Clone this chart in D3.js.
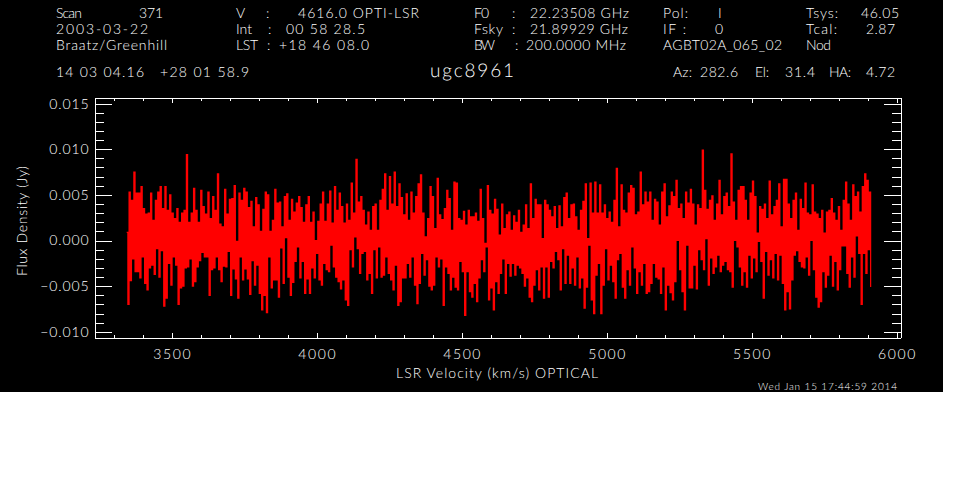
<!DOCTYPE html>
<html>
<head>
<meta charset="utf-8">
<script src="https://cdn.jsdelivr.net/npm/d3@7"></script>
<style>
  html, body { margin:0; padding:0; background:#fff; }
  svg { display:block; }
  text { fill:#fff; font-family:"Lato","Liberation Sans",sans-serif; font-weight:300; text-rendering:geometricPrecision; }
</style>
</head>
<body>
<script>
// velocity of the first and last channel, km/s
const velocityRange = [3343, 5909];

// top of each channel's excursion, mJy left to right
const fluxHigh = [
  0.9,5.3,4.4,7.5,5.2,5.2,5.9,3.5,2.9,3.0,5.2,2.2,
  4.4,5.3,5.9,3.5,5.9,3.3,5.0,3.0,2.4,3.5,2.0,3.0,
  3.3,9.4,2.0,3.0,5.7,3.3,2.0,5.5,3.7,2.9,5.3,2.4,

  4.8,3.3,7.3,1.8,1.5,5.6,2.9,4.5,4.6,6.0,
  -0.1,5.2,4.4,5.7,5.3,3.6,4.3,1.5,4.7,3.9,
  1.0,3.4,5.3,5.0,1.0,2.2,5.6,4.1,4.2,1.5,
  4.8,5.1,2.2,4.5,3.1,4.1,4.8,3.6,2.0,3.9,

  4.8,2.0,3.1,0.0,2.1,4.0,5.3,2.1,4.0,5.4,
  1.9,5.9,3.3,5.2,3.7,1.9,4.0,2.2,6.3,3.0,
  8.9,4.2,4.8,3.3,1.7,3.1,1.1,3.7,4.0,1.1,
  4.4,5.6,7.3,3.3,7.0,4.0,7.5,3.7,6.2,4.7,

  2.8,5.1,2.2,5.3,3.0,4.8,6.2,7.2,3.0,0.4,
  2.4,5.9,4.8,1.3,6.8,2.8,2.3,3.5,5.5,4.6,
  1.1,6.4,6.3,2.4,2.2,3.2,1.7,3.3,2.6,2.6,
  3.0,2.1,5.6,2.4,-0.3,6.0,3.3,2.9,4.5,3.4,

  0.6,4.0,1.3,2.8,3.1,1.1,2.7,2.0,3.3,0.9,
  1.7,3.9,1.3,6.2,2.4,4.5,3.9,3.9,0.2,4.4,
  3.9,3.3,2.6,3.7,1.3,3.8,1.5,4.7,5.2,2.4,
  3.9,4.0,2.6,1.1,3.3,4.3,6.2,0.2,6.3,3.0,

  6.4,3.0,6.1,3.0,3.9,2.4,3.1,2.0,4.4,7.9,
  1.5,6.1,3.3,3.0,5.2,6.0,5.7,2.8,3.1,7.5,
  3.9,5.3,4.2,5.3,2.2,4.5,4.2,1.7,5.3,6.2,
  2.6,3.8,5.3,4.8,6.6,3.5,4.0,2.4,5.3,4.1,

  5.6,4.0,1.7,3.9,3.5,9.9,5.5,3.4,4.4,4.9,
  2.2,4.0,6.6,2.8,4.8,5.2,3.7,9.5,4.2,2.2,
  5.5,5.9,5.9,4.4,2.2,5.2,6.5,4.8,0.8,3.7,
  3.4,4.0,2.4,6.5,2.8,3.7,4.4,6.2,1.5,6.7,

  6.7,4.0,2.4,4.4,5.2,1.1,4.5,3.5,6.3,3.0,2.8,6.1,
  3.1,2.9,2.4,3.3,0.8,3.1,3.3,4.6,3.0,2.2,3.7,1.1,
  4.4,6.4,4.0,2.2,6.1,4.8,5.3,3.1,5.9,7.3,6.6,5.3
];

// bottom of each channel's excursion, mJy
const fluxLow = [
  -7.0,-4.4,-2.0,-3.4,-3.4,-4.1,-1.8,-4.7,-5.4,-3.0,-2.7,-3.7,
  -0.9,-4.0,-1.1,-7.2,-6.3,-2.5,-4.9,-1.8,-2.7,-7.0,-5.2,-5.0,
  -3.0,-2.9,-2.0,-5.0,-4.5,-2.9,-2.2,-1.3,-1.8,-1.8,-6.0,-3.2,

  -3.0,-1.8,-3.2,-4.5,-2.8,-2.9,-1.2,-6.0,-3.1,-4.2,
  -6.3,-1.8,-4.3,-3.1,-4.2,-5.9,-2.2,-4.9,-2.7,-5.8,
  -7.6,-6.0,-7.9,-1.8,-5.2,-4.3,-4.3,-6.2,-0.8,-4.7,
  0.3,-4.0,-6.0,-4.6,-2.3,-0.7,-4.1,-2.3,-5.8,-4.2,

  -5.8,-3.0,-4.1,-1.4,-4.3,-4.9,-2.5,-3.2,-3.4,-0.5,
  -2.9,-4.0,-4.5,-5.3,-4.3,-6.5,-7.1,-1.0,-2.9,0.4,
  -0.9,-3.6,-1.4,-1.2,-4.3,-3.6,-5.8,-1.0,-4.1,-0.7,
  -4.0,-3.8,-1.8,-3.6,-4.3,-5.4,-2.7,-7.1,-6.7,-4.1,

  -4.1,-2.5,-4.0,-1.8,-4.9,-6.9,-4.7,-1.4,-3.8,-2.1,
  -5.0,-5.4,-4.9,-1.8,-2.9,-2.0,-7.1,-2.9,-3.6,-5.4,
  -4.0,-5.1,-5.4,-2.3,-3.4,-8.2,-3.4,-5.6,-6.2,-4.7,
  -6.7,-4.1,-2.1,-3.4,-0.7,-6.5,-5.2,-7.6,-4.5,-5.8,

  -3.6,-2.0,-5.8,-2.5,-3.9,-2.5,-3.8,-2.7,-3.0,-3.6,
  -5.0,-4.1,-6.2,-6.7,-4.9,-3.2,-5.4,-2.9,-6.3,-2.9,
  -6.2,-2.3,-3.0,-1.2,-2.1,-5.4,-0.9,-4.7,-1.6,-4.7,
  -3.0,-4.9,-1.8,-5.2,-4.1,-7.4,-5.1,-0.5,-6.5,-8.0,

  -3.8,-2.5,-8.0,-4.9,-0.9,-4.3,-2.7,-4.5,-6.3,-2.1,
  -1.4,-5.1,-6.3,-3.2,-4.9,-0.7,-3.0,-5.8,-3.4,-4.9,
  -2.5,-5.8,-5.6,-4.7,-2.5,-4.0,-4.2,-5.8,-2.9,-7.6,
  -4.9,-5.7,-6.5,-4.5,0.0,-3.2,-5.6,-7.6,-0.5,-5.2,

  -5.2,-2.7,-5.3,-1.0,-2.1,-3.2,0.2,-4.9,-1.9,-3.6,
  -2.9,-1.6,-3.4,-2.7,-2.3,-3.2,-3.4,-5.1,0.0,-0.7,
  -2.9,-4.9,-3.4,-5.1,-1.6,-4.1,-1.9,-3.4,-0.1,-2.3,
  -6.3,-1.2,-3.8,-2.1,-4.1,-1.4,-4.3,-1.6,-4.7,-7.6,

  -5.6,-7.5,-4.3,-1.6,-1.1,-2.3,-2.9,-3.0,-1.8,-3.8,0.0,-3.2,
  -6.2,-7.3,-6.7,-3.4,-5.1,-3.8,-1.6,-5.0,-2.3,-5.4,-3.2,-0.6,
  -0.6,-3.6,-5.1,-1.8,-4.0,0.5,-1.4,-7.0,-1.4,-3.6,-1.0,-5.1
];

const xMajor = [3500,4000,4500,5000,5500,6000];
const xMinor = [3300,3400,3600,3700,3800,3900,4100,4200,4300,4400,4600,4700,4800,4900,5100,5200,5300,5400,5600,5700,5800,5900];
const yMajor = [-0.010,-0.005,0,0.005,0.010,0.015];
const yMinor = [-0.009,-0.008,-0.007,-0.006,-0.004,-0.003,-0.002,-0.001,0.001,0.002,0.003,0.004,0.006,0.007,0.008,0.009,0.011,0.012,0.013,0.014];

const xTitle = "LSR Velocity (km/s) OPTICAL";
const yTitle = "Flux Density (Jy)";
const sourceName = "ugc8961";
const timestamp = "Wed Jan 15 17:44:59 2014";

// header strings
const headerText = [
  "Scan","371","2003-03-22","Braatz/Greenhill",
  "V",":","4616.0 OPTI-LSR","Int",":","00 58 28.5","LST",":","+18 46 08.0",
  "14 03 04.16","+28 01 58.9",
  "F0",":","22.23508 GHz","Fsky",":","21.89929 GHz","BW",":","200.0000 MHz",
  "Pol:","I","IF :","0","AGBT02A_065_02",
  "Tsys:","46.05","Tcal:","2.87","Nod",
  "Az:","282.6","El:","31.4","HA:","4.72"
];
// left, right, baseline for each header string, same order
const headerBox = [
  [56,82,18],[139,163,18],[56,148,34],[56,167,50],
  [236,245,18],[266,268,18],[298,419,18],[236,252,34],[268,270,34],[286,365,34],[236,258,50],[267,269,50],[279,369,50],
  [56,144,77],[160,249,77],
  [474,489,18],[512,514,18],[530,629,18],[474,503,34],[512,514,34],[530,628,34],[474,495,50],[515,517,50],[526,626,50],
  [663,688,18],[718,719,18],[663,686,34],[715,722,34],[663,782,50],
  [806,838,18],[861,899,18],[806,837,34],[866,895,34],[806,831,50],
  [673,692,77],[700,738,77],[755,769,77],[785,815,77],[829,851,77],[866,895,77]
];

const svg = d3.select("body").append("svg")
    .attr("width", 962)
    .attr("height", 490);

svg.append("rect")
    .attr("width", 943)
    .attr("height", 392)
    .attr("fill", "#000");

const plotLeft = 94.5, plotRight = 900.5, plotTop = 97.5, plotBottom = 337.5;

const x = d3.scaleLinear().domain([3232, 6012]).range([plotLeft, plotRight]);
const y = d3.scaleLinear().domain([0.01566, -0.01062]).range([plotTop, plotBottom]);

// channel number to velocity
const n = Math.min(fluxHigh.length, fluxLow.length);
const channel = d3.scaleLinear().domain([0, n - 0.5]).range(velocityRange);

const points = d3.range(n).flatMap(i => [
  [channel(i), fluxHigh[i] / 1000],
  [channel(i + 0.5), fluxLow[i] / 1000]
]);

const line = d3.line()
    .x(d => x(d[0]))
    .y(d => y(d[1]))
    .curve(d3.curveStepAfter);

svg.append("path")
    .datum(points)
    .attr("d", line)
    .attr("fill", "none")
    .attr("stroke", "#f00")
    .attr("stroke-width", 1.2);

// box and ticks, drawn with the d3 axes
function drawAxis(axis, tx, ty) {
  const g = svg.append("g")
      .attr("transform", "translate(" + tx + "," + ty + ")")
      .call(axis);
  g.selectAll("path,line")
      .attr("stroke", "#fff")
      .attr("stroke-width", 1)
      .attr("shape-rendering", "crispEdges");
  return g;
}

const fmtY = d3.format(".3f");

const xLabels = drawAxis(d3.axisBottom(x).tickValues(xMajor).tickSizeInner(-5).tickSizeOuter(0).tickPadding(12).tickFormat(d3.format("d")), 0, plotBottom);
drawAxis(d3.axisBottom(x).tickValues(xMinor).tickSizeInner(-3).tickSizeOuter(0).tickFormat(""), 0, plotBottom);
drawAxis(d3.axisTop(x).tickValues(xMajor).tickSizeInner(-5).tickSizeOuter(0).tickFormat(""), 0, plotTop);
drawAxis(d3.axisTop(x).tickValues(xMinor).tickSizeInner(-3).tickSizeOuter(0).tickFormat(""), 0, plotTop);

const yLabels = drawAxis(d3.axisLeft(y).tickValues(yMajor).tickSizeInner(-17).tickSizeOuter(0).tickPadding(5).tickFormat(d => fmtY(d).replace("-", "\u2212")), plotLeft, 0);
drawAxis(d3.axisLeft(y).tickValues(yMinor).tickSizeInner(-9).tickSizeOuter(0).tickFormat(""), plotLeft, 0);
drawAxis(d3.axisRight(y).tickValues(yMajor).tickSizeInner(-17).tickSizeOuter(0).tickFormat(""), plotRight, 0);
drawAxis(d3.axisRight(y).tickValues(yMinor).tickSizeInner(-9).tickSizeOuter(0).tickFormat(""), plotRight, 0);

xLabels.selectAll("text")
    .attr("fill", "#fff")
    .attr("font-size", 14)
    .attr("font-family", null)
    .attr("letter-spacing", 1.6);
yLabels.selectAll("text")
    .attr("fill", "#fff")
    .attr("font-size", 14)
    .attr("font-family", null)
    .attr("letter-spacing", 0.9);

svg.selectAll("text.header")
    .data(headerText)
  .enter().append("text")
    .attr("class", "header")
    .attr("x", (d, i) => headerBox[i][0])
    .attr("y", (d, i) => headerBox[i][2])
    .attr("font-size", 14)
    .attr("textLength", (d, i) => headerBox[i][1] - headerBox[i][0])
    .attr("lengthAdjust", "spacing")
    .text(d => d);

svg.append("text")
    .attr("x", 430).attr("y", 77)
    .attr("font-size", 19)
    .attr("textLength", 84)
    .text(sourceName);

svg.append("text")
    .attr("x", 396).attr("y", 378)
    .attr("font-size", 14)
    .attr("textLength", 202)
    .text(xTitle);

svg.append("text")
    .attr("transform", "translate(27,276) rotate(-90)")
    .attr("font-size", 14)
    .attr("textLength", 110)
    .text(yTitle);

svg.append("text")
    .attr("x", 758).attr("y", 390)
    .attr("font-size", 10)
    .attr("font-weight", 400)
    .attr("textLength", 139)
    .text(timestamp);
</script>
</body>
</html>
